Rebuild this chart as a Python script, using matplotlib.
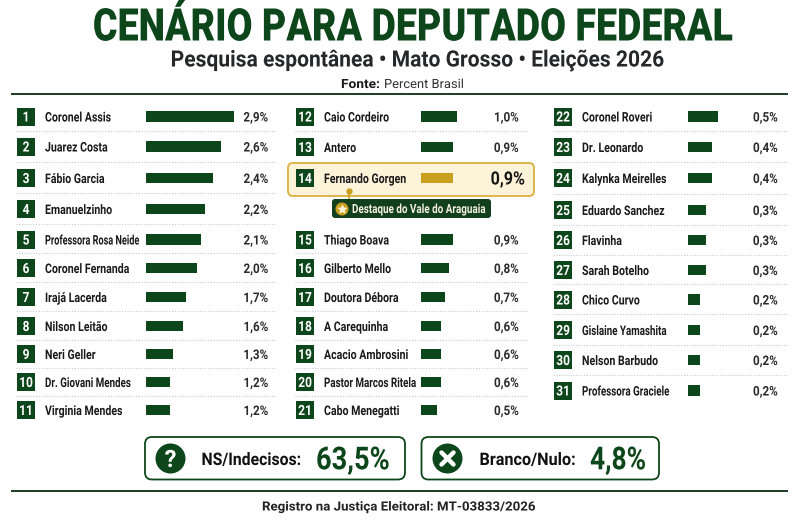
import matplotlib
matplotlib.use("Agg")
import matplotlib.pyplot as plt
from matplotlib.patches import FancyBboxPatch, Rectangle, Circle
from matplotlib.patheffects import AbstractPathEffect
from matplotlib.transforms import Affine2D

plt.rcParams["font.family"] = ["Roboto", "DejaVu Sans"]

names_1 = ["Coronel Assis", "Juarez Costa", "Fábio Garcia", "Emanuelzinho", "Professora Rosa Neide",
           "Coronel Fernanda", "Irajá Lacerda", "Nilson Leitão", "Neri Geller", "Dr. Giovani Mendes",
           "Virginia Mendes"]
values_1 = [2.9, 2.6, 2.4, 2.2, 2.1, 2.0, 1.7, 1.6, 1.3, 1.2, 1.2]
names_2 = ["Caio Cordeiro", "Antero", "Fernando Gorgen", "Thiago Boava", "Gilberto Mello", "Doutora Débora",
           "A Carequinha", "Acacio Ambrosini", "Pastor Marcos Ritela", "Cabo Menegatti"]
values_2 = [1.0, 0.9, 0.9, 0.9, 0.8, 0.7, 0.6, 0.6, 0.6, 0.5]
names_3 = ["Coronel Roveri", "Dr. Leonardo", "Kalynka Meirelles", "Eduardo Sanchez", "Flavinha", "Sarah Botelho",
           "Chico Curvo", "Gislaine Yamashita", "Nelson Barbudo", "Professora Graciele"]
values_3 = [0.5, 0.4, 0.4, 0.3, 0.3, 0.3, 0.2, 0.2, 0.2, 0.2]

GREEN = "#0e461b"
GOLD = "#c99f1e"
W, H = 800, 520
CAP = 0.711  # Roboto cap height per em


class StretchY(AbstractPathEffect):
    # no condensed face installed, so keep the glyphs narrow and pull them up around the baseline
    def __init__(self, sy, y0):
        super().__init__()
        self.sy = sy
        self.y0 = y0

    def draw_path(self, renderer, gc, tpath, affine, rgbFace=None):
        extra = Affine2D().translate(0, -self.y0).scale(1, self.sy).translate(0, self.y0)
        renderer.draw_path(gc, tpath, affine + extra, rgbFace)


fig = plt.figure(figsize=(8, 5.2), dpi=100, facecolor="white")
renderer = fig.canvas.get_renderer()
bg = fig.add_axes([0, 0, 1, 1])
bg.set_xlim(0, W)
bg.set_ylim(H, 0)
bg.axis("off")


def txt(x, base, s, cap, color="#1c1c1c", weight="bold", ha="left", cond=0.8, width=None, **kw):
    em = cap / CAP
    t = bg.text(x, base, s, fontsize=em * cond * 0.72, color=color, fontweight=weight, ha=ha, va="baseline", **kw)
    if width is not None:
        cond = cond * width / t.get_window_extent(renderer).width
        t.set_fontsize(em * cond * 0.72)
    t.set_path_effects([StretchY(1 / cond, H - base)])
    return t


def name_cond(name):
    # the long names are squeezed further in the original
    if len(name) >= 21:
        return 0.69
    return 0.74 if len(name) >= 18 else 0.8


txt(412.5, 40.5, "CENÁRIO PARA DEPUTADO FEDERAL", 32, color=GREEN, weight=900, ha="center", width=641)
txt(417.5, 66.5, "Pesquisa espontânea • Mato Grosso • Eleições 2026", 16, color="#25282a", ha="center", width=495)
txt(341, 88, "Fonte:", 9, width=39)
txt(384, 88, "Percent Brasil", 9, color="#333333", weight="normal", width=80)
bg.plot([12, 787], [94, 94], color="#1d3a22", lw=1.4)
bg.plot([12, 787], [491, 491], color="#1d3a22", lw=1.4)

# highlight row behind column 2
bg.add_patch(FancyBboxPatch((290, 165), 242, 29, boxstyle="round,pad=2,rounding_size=5",
                            fc="#fdf3d8", ec="#dcb040", lw=1.3, zorder=1))
bg.plot([349, 349], [191, 200], color=GOLD, lw=1.2, zorder=2)
bg.scatter([349], [191], s=12, color=GOLD, zorder=3)
bg.add_patch(FancyBboxPatch((334, 201), 155, 15, boxstyle="round,pad=2,rounding_size=3",
                            fc="#123f1c", ec="none", zorder=2))
bg.add_patch(Circle((342, 209), 6.5, fc=GOLD, ec="none", zorder=3))
bg.scatter([342], [209], marker="*", s=32, color="#fdf3d8", zorder=4)
txt(352, 213, "Destaque do Vale do Araguaia", 9, color="#f4f0e2", width=134, zorder=4)

columns = [
    dict(start=1, names=names_1, values=values_1,
         rows=[116.5, 146.5, 178, 209, 239.5, 268, 297, 326, 354, 382, 410],
         badge=17, label=45, bar=146, val=268, sep=(16, 275), xmax=2.9, bar_w=88, power=1.47),
    dict(start=12, names=names_2, values=values_2,
         rows=[116.5, 147, 178, 239.5, 268, 297, 326, 354, 382, 410],
         badge=296, label=324, bar=421, val=518.5, sep=(295, 528), xmax=1.0, bar_w=36, power=1.17),
    dict(start=22, names=names_3, values=values_3,
         rows=[116.5, 147, 178, 210, 240, 270, 299.5, 330, 360, 390.5],
         badge=554, label=582, bar=687.5, val=777.5, sep=(553, 787), xmax=0.5, bar_w=30, power=1.0),
]

for col in columns:
    # bars get an axes of their own, the scale differs per column
    ax = fig.add_axes([col["bar"] / W, 0, col["bar_w"] / W, 1], zorder=5)
    ax.patch.set_alpha(0)
    p = col["power"]
    ax.set_xscale("function", functions=(lambda v, p=p: v ** p, lambda v, p=p: v ** (1 / p)))
    ax.set_xlim(0, col["xmax"])
    ax.set_ylim(H, 0)
    ax.axis("off")
    colors = [GOLD if n == "Fernando Gorgen" else GREEN for n in col["names"]]
    ax.barh(col["rows"], col["values"], height=10.5, color=colors)

    n_rows = len(col["rows"])
    for i, (name, value, y) in enumerate(zip(col["names"], col["values"], col["rows"])):
        bg.add_patch(Rectangle((col["badge"], y - 9), 18, 18, fc=GREEN, ec="none", zorder=3))
        txt(col["badge"] + 9, y + 5, str(col["start"] + i), 10, color="white", ha="center", cond=0.85, zorder=4)
        hl = name == "Fernando Gorgen"
        txt(col["label"], y + 5, name, 9.4, color="#1a1a1a", cond=name_cond(name), zorder=4)
        label = f"{value:.1f}%".replace(".", ",")
        if hl:
            txt(col["val"] + 6.5, y + 6.5, label, 13, color="#151515", ha="right", cond=0.88, zorder=4)
        else:
            txt(col["val"], y + 5, label, 9.4, color="#2a2a2a", ha="right", cond=0.88, zorder=4)
        if i < n_rows - 1 and not hl and col["names"][i + 1] != "Fernando Gorgen":
            sy = (y + col["rows"][i + 1]) / 2 - 0.5
            bg.plot(col["sep"], [sy, sy], color="#c9c9c9", lw=0.8, ls=(0, (1, 1.5)), zorder=1)

# bottom boxes
for x0, x1 in [(145, 405), (421.5, 659)]:
    bg.add_patch(FancyBboxPatch((x0 + 7, 444), x1 - x0 - 14, 28.5, boxstyle="round,pad=7,rounding_size=7",
                                fc="white", ec=GREEN, lw=1.3))
bg.add_patch(Circle((170.5, 458.5), 15, fc=GREEN, ec="none"))
txt(170.5, 467, "?", 17, color="white", ha="center", cond=1.0)
bg.add_patch(Circle((447.5, 458.5), 15, fc=GREEN, ec="none"))
bg.plot([441.5, 453.5], [452.5, 464.5], color="white", lw=3.2, solid_capstyle="round")
bg.plot([441.5, 453.5], [464.5, 452.5], color="white", lw=3.2, solid_capstyle="round")
txt(201.5, 465, "NS/Indecisos:", 12.3, color="#111111", width=100)
txt(316, 469.3, "63,5%", 22.5, color=GREEN, width=73.5)
txt(479.5, 465, "Branco/Nulo:", 12.3, color="#111111", width=96.5)
txt(590, 469.3, "4,8%", 22.5, color=GREEN, width=56)

txt(262, 510.5, "Registro na Justiça Eleitoral: MT-03833/2026", 9, color="#222222", width=273.5)

fig.savefig("out.png", dpi=100, facecolor="white")
